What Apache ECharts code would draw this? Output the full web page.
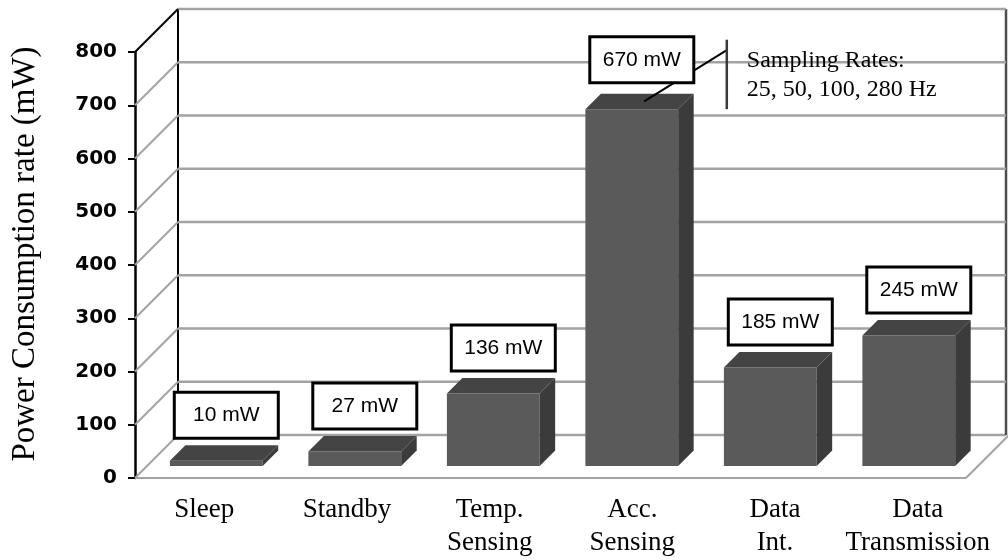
<!DOCTYPE html>
<html><head><meta charset="utf-8">
<script src="https://cdn.jsdelivr.net/npm/echarts@6/dist/echarts.min.js"></script>
<style>html,body{margin:0;padding:0;background:#fff}#c{width:1008px;height:560px}</style>
</head><body><div id="c"></div>
<script>
// ---- data ----
const categories = ['Sleep', 'Standby', 'Temp.\nSensing', 'Acc.\nSensing', 'Data\nInt.', 'Data\nTransmission'];
const powerValues = [10, 27, 136, 670, 185, 245];
const valueLabels = ['10 mW', '27 mW', '136 mW', '670 mW', '185 mW', '245 mW'];
const yTicks = [0, 100, 200, 300, 400, 500, 600, 700, 800];
const annotationIndex = 3;
const annotationLines = ['Sampling Rates:', '25, 50, 100, 280 Hz'];

// ---- style / geometry ----
const DX = 43, DY = 43;          // full depth of the 3D box
const F1 = 0.28, F2 = 0.64;       // bar front / back depth fraction
const BAR_RATIO = 0.67;
const GRID = { left: 135, right: 42, top: 52, bottom: 82 };

const chart = echarts.init(document.getElementById('c'), null, { renderer: 'canvas' });

function renderWall(params, api) {
  const cs = params.coordSys;
  const v = api.value(1);
  const y = api.coord([0, v])[1];
  const x0 = cs.x, x1 = cs.x + cs.width;
  const bx0 = x0 + DX, bx1 = Math.min(x1 + DX, api.getWidth() - 2);
  const isTop = v === yTicks[yTicks.length - 1];
  const gray = '#a3a3a3';
  const children = [
    { type: 'line', shape: { x1: bx0, y1: y - DY, x2: bx1, y2: y - DY }, style: { stroke: gray, lineWidth: 2.5 } },
    { type: 'line', shape: { x1: x0, y1: y, x2: bx0, y2: y - DY }, style: { stroke: isTop ? '#000' : gray, lineWidth: 2 } }
  ];
  if (v === 0) {
    const yTop = api.coord([0, yTicks[yTicks.length - 1]])[1];
    children.push(
      { type: 'line', shape: { x1: x0, y1: y, x2: x1, y2: y }, style: { stroke: gray, lineWidth: 2 } },
      { type: 'line', shape: { x1: x1, y1: y, x2: x1 + DX, y2: y - DY }, style: { stroke: gray, lineWidth: 2 } },
      { type: 'line', shape: { x1: bx0, y1: y - DY, x2: bx0, y2: yTop - DY }, style: { stroke: '#000', lineWidth: 2 } },
      { type: 'line', shape: { x1: bx1, y1: y - DY, x2: bx1, y2: yTop - DY }, style: { stroke: '#4d4d4d', lineWidth: 2.5 } }
    );
  }
  return { type: 'group', children };
}

function renderBar(params, api) {
  const i = api.value(0), v = api.value(1);
  const base = api.coord([i, 0]);
  const top = api.coord([i, v]);
  const band = api.size([1, 0])[0];
  const w = band * BAR_RATIO;
  const fx = base[0] - w / 2 + DX * F1;
  const yBot = base[1] - DY * F1;
  const yTop = top[1] - DY * F1;
  const ddx = DX * (F2 - F1), ddy = DY * (F2 - F1);
  const children = [
    { type: 'rect', shape: { x: fx, y: yTop, width: w, height: yBot - yTop }, style: { fill: '#5a5a5a' } },
    { type: 'polygon', shape: { points: [[fx + w, yTop], [fx + w + ddx, yTop - ddy], [fx + w + ddx, yBot - ddy], [fx + w, yBot]] }, style: { fill: '#3b3b3b' } },
    { type: 'polygon', shape: { points: [[fx, yTop], [fx + ddx, yTop - ddy], [fx + w + ddx, yTop - ddy], [fx + w, yTop]] }, style: { fill: '#444444' } }
  ];
  const bw = 104, bh = 46;
  const isAnn = i === annotationIndex;
  const bcx = fx + w / 2 + 10;
  const bBottom = yTop - ddy - 7 - (isAnn ? 4 : 0);
  const bTop = bBottom - bh;
  if (isAnn) {
    const sx = fx + w / 2 + ddx * 0.8, sy = yTop - ddy / 2;
    const vx = bcx + bw / 2 + 33;
    const ey = sy - (vx - sx) * 0.62;
    children.push(
      { type: 'line', shape: { x1: sx, y1: sy, x2: vx, y2: ey }, style: { stroke: '#000', lineWidth: 2 } },
      { type: 'line', shape: { x1: vx, y1: bTop + 3, x2: vx, y2: yTop }, style: { stroke: '#3a3a3a', lineWidth: 2.5 } },
      { type: 'text', x: vx + 20, y: bTop + 24, style: { text: annotationLines[0], font: '24px "Liberation Serif"', fill: '#000', verticalAlign: 'middle', align: 'left' } },
      { type: 'text', x: vx + 20, y: bTop + 53, style: { text: annotationLines[1], font: '24px "Liberation Serif"', fill: '#000', verticalAlign: 'middle', align: 'left' } }
    );
  }
  children.push(
    { type: 'rect', shape: { x: bcx - bw / 2, y: bTop, width: bw, height: bh }, style: { fill: '#fff', stroke: '#000', lineWidth: 3 } },
    { type: 'text', x: bcx, y: bTop + bh / 2, style: { text: valueLabels[i], font: '21px "Liberation Sans"', fill: '#000', align: 'center', verticalAlign: 'middle' } }
  );
  return { type: 'group', children };
}

chart.setOption({
  animation: false,
  backgroundColor: '#fff',
  grid: [
    { left: GRID.left, right: GRID.right, top: GRID.top, bottom: GRID.bottom },
    { left: 133, right: 19, top: GRID.top, bottom: GRID.bottom }
  ],
  xAxis: [
    { type: 'category', gridIndex: 0, data: categories, axisLine: { show: false }, axisTick: { show: false }, axisLabel: { show: false }, splitLine: { show: false } },
    { type: 'category', gridIndex: 1, data: categories, axisLine: { show: false }, axisTick: { show: false }, splitLine: { show: false },
      axisLabel: { color: '#000', fontFamily: 'Liberation Serif', fontSize: 27, lineHeight: 33, margin: 15, interval: 0 } }
  ],
  yAxis: [
    { type: 'value', gridIndex: 0, min: 0, max: 800, interval: 100,
      axisLine: { show: true, lineStyle: { color: '#000', width: 2.5 } },
      axisTick: { show: true, length: 7, lineStyle: { color: '#000', width: 2 } },
      splitLine: { show: false },
      axisLabel: { color: '#000', fontWeight: 'bold', fontSize: 20, fontFamily: 'DejaVu Sans', margin: 18 },
      name: 'Power Consumption rate (mW)', nameLocation: 'middle', nameRotate: 90, nameGap: 93,
      nameTextStyle: { fontFamily: 'Liberation Serif', fontSize: 33, color: '#000', padding: [0, 0, 0, 22] } },
    { type: 'value', gridIndex: 1, min: 0, max: 800, show: false }
  ],
  series: [
    { type: 'custom', xAxisIndex: 0, yAxisIndex: 0, renderItem: renderWall, data: yTicks.map(v => [0, v]), z: 1, silent: true },
    { type: 'custom', xAxisIndex: 0, yAxisIndex: 0, renderItem: renderBar, data: powerValues.map((v, i) => [i, v]), z: 2, silent: true }
  ]
});
</script>
</body></html>
